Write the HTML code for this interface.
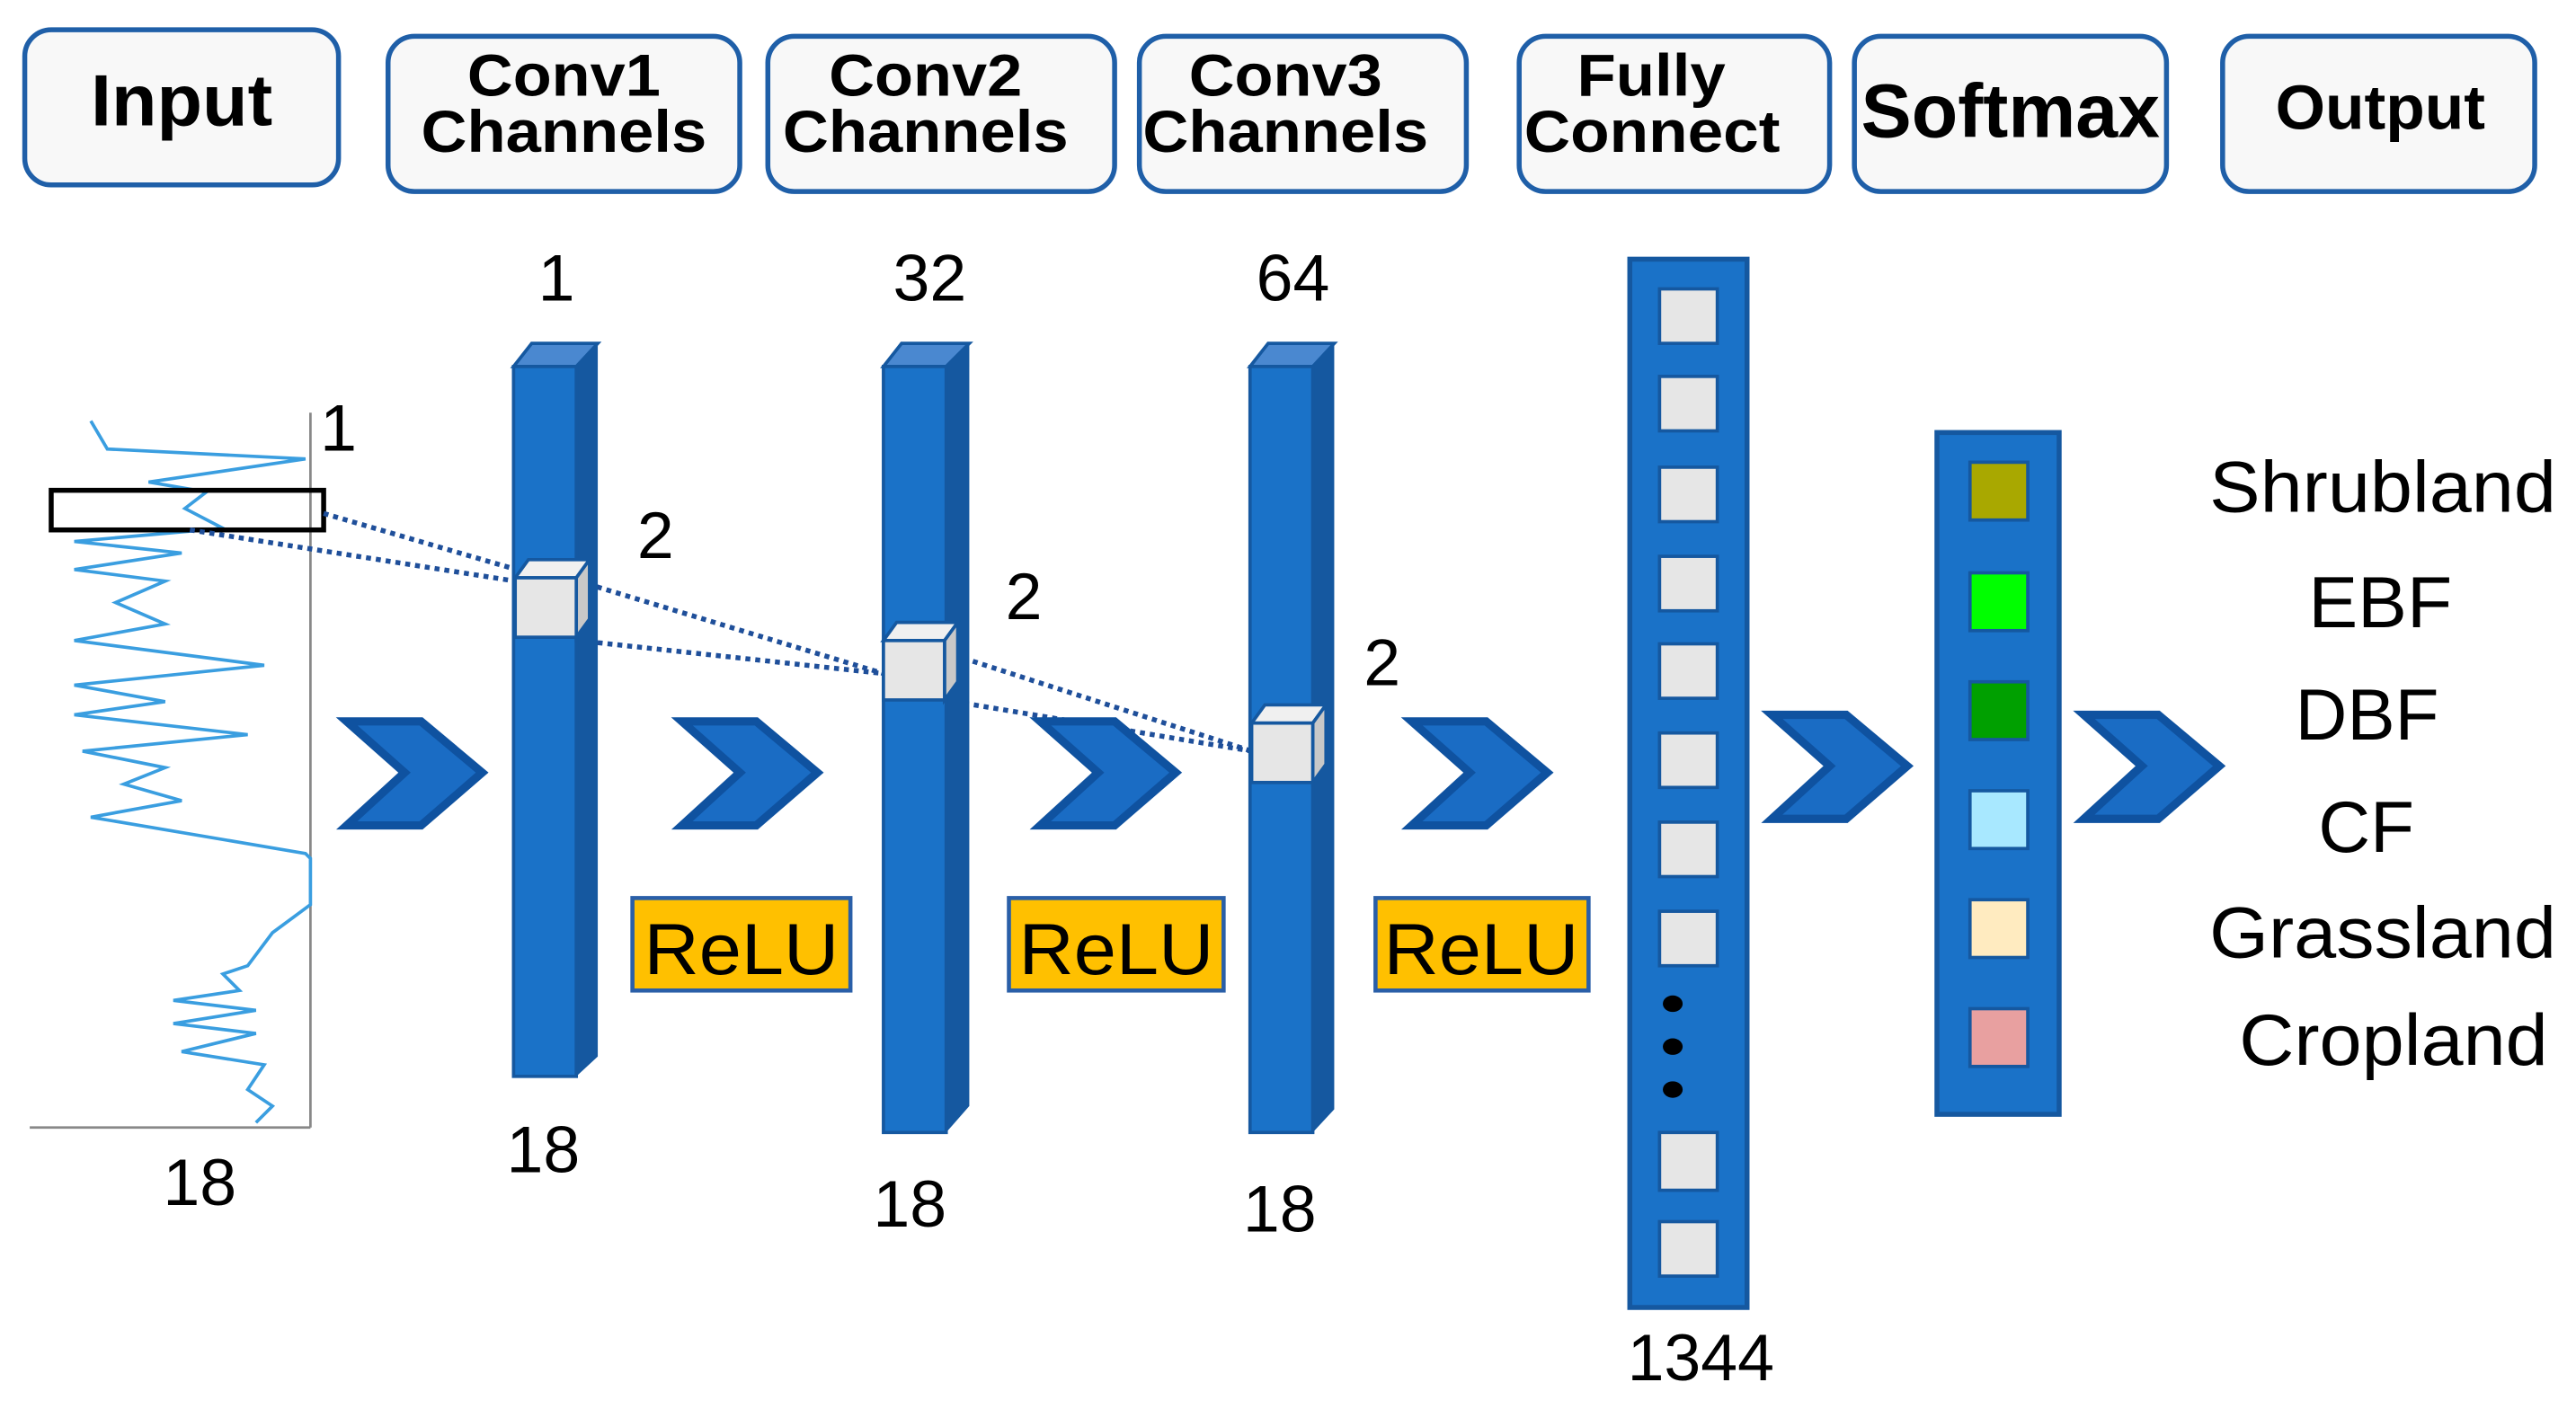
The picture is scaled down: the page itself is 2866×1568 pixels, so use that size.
<!DOCTYPE html>
<html><head><meta charset="utf-8"><style>
html,body{margin:0;padding:0;background:#fff}
svg{display:block}
text{font-family:"Liberation Sans",Arial,sans-serif}
</style></head><body>
<svg width="2866" height="1568" viewBox="0 0 1560 853.5" preserveAspectRatio="none" xmlns="http://www.w3.org/2000/svg">
<defs>
<g id="chev"><polygon points="0,0 45,0 82,31 45,63 0,63 35,31" fill="#1a6cc4" stroke="#0f52a0" stroke-width="5" stroke-linejoin="miter"/></g>
</defs>
<g fill="#f8f8f8" stroke="#1f5fa8" stroke-width="3">
<rect x="15" y="18" width="190" height="94" rx="16"/>
<rect x="235" y="22" width="213" height="94" rx="16"/>
<rect x="465" y="22" width="210" height="94" rx="16"/>
<rect x="690" y="22" width="198" height="94" rx="16"/>
<rect x="920" y="22" width="188" height="94" rx="16"/>
<rect x="1123" y="22" width="189" height="94" rx="16"/>
<rect x="1346" y="22" width="189" height="94" rx="16"/>
</g>
<g font-weight="bold" fill="#000" lengthAdjust="spacingAndGlyphs">
<text x="55" y="76" font-size="44" textLength="110" lengthAdjust="spacingAndGlyphs">Input</text>
<text x="283" y="58" font-size="36" textLength="117" lengthAdjust="spacingAndGlyphs">Conv1</text><text x="255" y="92" font-size="36" textLength="173" lengthAdjust="spacingAndGlyphs">Channels</text>
<text x="502" y="58" font-size="36" textLength="117" lengthAdjust="spacingAndGlyphs">Conv2</text><text x="474" y="92" font-size="36" textLength="173" lengthAdjust="spacingAndGlyphs">Channels</text>
<text x="720" y="58" font-size="36" textLength="117" lengthAdjust="spacingAndGlyphs">Conv3</text><text x="692" y="92" font-size="36" textLength="173" lengthAdjust="spacingAndGlyphs">Channels</text>
<text x="955" y="58" font-size="36" textLength="90" lengthAdjust="spacingAndGlyphs">Fully</text><text x="923" y="92" font-size="36" textLength="155" lengthAdjust="spacingAndGlyphs">Connect</text>
<text x="1127" y="83" font-size="46" textLength="181" lengthAdjust="spacingAndGlyphs">Softmax</text>
<text x="1378" y="78" font-size="38" textLength="127" lengthAdjust="spacingAndGlyphs">Output</text>
</g>
<g font-size="40" fill="#000" text-anchor="middle">
<text x="337" y="182">1</text><text x="563" y="182">32</text><text x="783" y="182">64</text>
<text x="329" y="710">18</text><text x="551" y="743">18</text><text x="775" y="746">18</text>
<text x="121" y="730">18</text><text x="205" y="273">1</text>
<text x="397" y="338">2</text><text x="620" y="375">2</text><text x="837" y="415">2</text>
<text x="1030" y="836">1344</text>
</g>
<line x1="188" y1="250" x2="188" y2="683" stroke="#888" stroke-width="1.5"/>
<line x1="18" y1="683" x2="188" y2="683" stroke="#888" stroke-width="1.5"/>
<polyline fill="none" stroke="#3a9ee0" stroke-width="2" points="55,255 65,272 185,278 90,292 125,298 112,308 135,320 45,328 110,335 45,345 100,352 70,365 100,378 45,388 160,403 45,415 100,425 45,433 150,445 50,455 100,465 75,475 110,485 55,495 185,517 188,520 188,548 165,565 150,585 135,590 145,600 105,606 155,612 105,620 155,626 110,637 160,645 150,660 165,670 155,680"/>
<rect x="31" y="297" width="165" height="24" fill="none" stroke="#000" stroke-width="3"/>
<g stroke="#1f4f9a" stroke-width="3" stroke-dasharray="3,3" fill="none">
<line x1="196" y1="311" x2="330" y2="350"/>
<line x1="115" y1="321" x2="312" y2="352"/>
<line x1="350" y1="352" x2="535" y2="408"/>
<line x1="350" y1="388" x2="535" y2="408"/>
<line x1="572" y1="395" x2="758" y2="455"/>
<line x1="572" y1="424" x2="758" y2="455"/>
</g>
<g>
<polygon points="311,222 322,208 362,208 349,222" fill="#4a88d0" stroke="#1558a0" stroke-width="2"/>
<polygon points="349,222 362,208 362,640 349,652" fill="#1558a0"/>
<rect x="311" y="222" width="38" height="430" fill="#1a72c8" stroke="#1558a0" stroke-width="2"/>
<polygon points="535,222 546,208 587,208 573,222" fill="#4a88d0" stroke="#1558a0" stroke-width="2"/>
<polygon points="573,222 587,208 587,670 573,686" fill="#1558a0"/>
<rect x="535" y="222" width="38" height="464" fill="#1a72c8" stroke="#1558a0" stroke-width="2"/>
<polygon points="757,222 768,208 808,208 795,222" fill="#4a88d0" stroke="#1558a0" stroke-width="2"/>
<polygon points="795,222 808,208 808,672 795,686" fill="#1558a0"/>
<rect x="757" y="222" width="38" height="464" fill="#1a72c8" stroke="#1558a0" stroke-width="2"/>
</g>
<g stroke="#1558a0" stroke-width="2">
<polygon points="312,350 320,339 357,339 349,350" fill="#f0f0f0"/>
<polygon points="349,350 357,339 357,375 349,386" fill="#c8c8c8"/>
<rect x="312" y="350" width="37" height="36" fill="#e6e6e6"/>
<polygon points="535,388 543,377 580,377 572,388" fill="#f0f0f0"/>
<polygon points="572,388 580,377 580,413 572,424" fill="#c8c8c8"/>
<rect x="535" y="388" width="37" height="36" fill="#e6e6e6"/>
<polygon points="758,438 766,427 803,427 795,438" fill="#f0f0f0"/>
<polygon points="795,438 803,427 803,463 795,474" fill="#c8c8c8"/>
<rect x="758" y="438" width="37" height="36" fill="#e6e6e6"/>
</g>
<use href="#chev" x="210" y="437"/>
<use href="#chev" x="413" y="437"/>
<use href="#chev" x="630" y="437"/>
<use href="#chev" x="855" y="437"/>
<use href="#chev" x="1073" y="433"/>
<use href="#chev" x="1262" y="433"/>
<g fill="#ffc000" stroke="#2a5fa8" stroke-width="2.5">
<rect x="383" y="544" width="132" height="56"/>
<rect x="611" y="544" width="130" height="56"/>
<rect x="833" y="544" width="129" height="56"/>
</g>
<g font-size="44" fill="#000">
<text x="390" y="590" textLength="118" lengthAdjust="spacingAndGlyphs">ReLU</text>
<text x="617" y="590" textLength="118" lengthAdjust="spacingAndGlyphs">ReLU</text>
<text x="838" y="590" textLength="118" lengthAdjust="spacingAndGlyphs">ReLU</text>
</g>
<rect x="987" y="157" width="71" height="635" fill="#1a72c8" stroke="#1558a0" stroke-width="3"/>
<g fill="#e6e6e6" stroke="#1558a0" stroke-width="2">
<rect x="1005" y="175" width="35" height="33"/>
<rect x="1005" y="228" width="35" height="33"/>
<rect x="1005" y="283" width="35" height="33"/>
<rect x="1005" y="337" width="35" height="33"/>
<rect x="1005" y="390" width="35" height="33"/>
<rect x="1005" y="444" width="35" height="33"/>
<rect x="1005" y="498" width="35" height="33"/>
<rect x="1005" y="552" width="35" height="33"/>
<rect x="1005" y="686" width="35" height="35"/>
<rect x="1005" y="740" width="35" height="33"/>
</g>
<g fill="#000"><ellipse cx="1013" cy="608" rx="6" ry="5"/><ellipse cx="1013" cy="634" rx="6" ry="5"/><ellipse cx="1013" cy="660" rx="6" ry="5"/></g>
<rect x="1173" y="262" width="74" height="413" fill="#1a72c8" stroke="#1558a0" stroke-width="3"/>
<g stroke="#1558a0" stroke-width="2">
<rect x="1193" y="280" width="35" height="35" fill="#a9a800"/>
<rect x="1193" y="347" width="35" height="35" fill="#00ff00"/>
<rect x="1193" y="413" width="35" height="35" fill="#00a000"/>
<rect x="1193" y="479" width="35" height="35" fill="#a8e8ff"/>
<rect x="1193" y="545" width="35" height="35" fill="#ffebc0"/>
<rect x="1193" y="611" width="35" height="35" fill="#e8a0a0"/>
</g>
<g font-size="44" fill="#000">
<text x="1338" y="310" textLength="210" lengthAdjust="spacingAndGlyphs">Shrubland</text>
<text x="1398" y="380" textLength="87" lengthAdjust="spacingAndGlyphs">EBF</text>
<text x="1390" y="448" textLength="87" lengthAdjust="spacingAndGlyphs">DBF</text>
<text x="1404" y="516" textLength="58" lengthAdjust="spacingAndGlyphs">CF</text>
<text x="1338" y="580" textLength="210" lengthAdjust="spacingAndGlyphs">Grassland</text>
<text x="1356" y="645" textLength="187" lengthAdjust="spacingAndGlyphs">Cropland</text>
</g>
</svg>
</body></html>
